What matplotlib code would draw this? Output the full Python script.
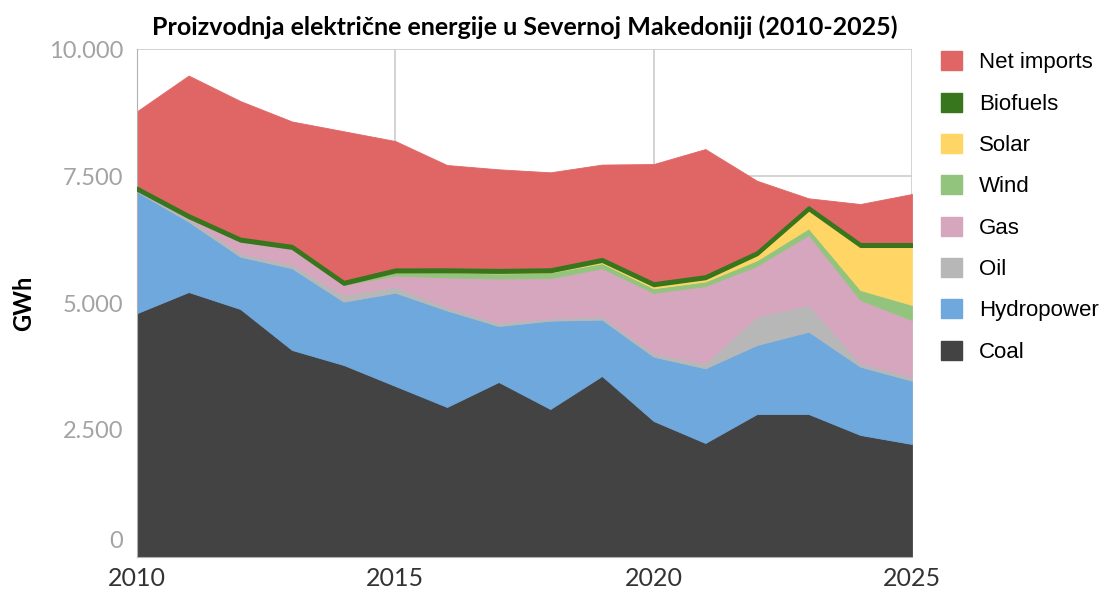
import matplotlib
matplotlib.use("Agg")
import matplotlib.pyplot as plt
from matplotlib.patches import Patch
from matplotlib.transforms import ScaledTranslation
import numpy as np

# Electricity generation in North Macedonia, GWh
years = list(range(2010, 2026))
coal = [4800, 5216, 4882, 4075, 3780, 3366, 2953, 3445, 2913, 3563, 2677, 2244, 2815, 2815, 2402, 2224]
hydro = [2391, 1384, 1029, 1610, 1246, 1837, 1900, 1102, 1739, 1110, 1266, 1470, 1358, 1620, 1344, 1246]
oil = [40, 60, 67, 75, 131, 118, 60, 65, 47, 60, 67, 99, 558, 526, 67, 79]
gas = [0, 30, 250, 320, 200, 220, 590, 870, 790, 950, 1190, 1520, 1000, 1378, 1246, 1116]
wind = [0, 0, 0, 0, 10, 60, 100, 100, 110, 100, 90, 90, 110, 131, 197, 296]
solar = [0, 0, 0, 5, 10, 20, 20, 30, 25, 45, 60, 65, 120, 375, 866, 1161]
biofuels = [40, 40, 40, 40, 40, 40, 40, 40, 40, 40, 40, 40, 40, 40, 40, 40]
net_imports = [1503, 2748, 2708, 2449, 2965, 2528, 2054, 1980, 1909, 1857, 2346, 2503, 1406, 176, 787, 984]

series = [
    ("Coal", coal, "#434343"),
    ("Hydropower", hydro, "#6fa8dc"),
    ("Oil", oil, "#b7b7b7"),
    ("Gas", gas, "#d5a6bd"),
    ("Wind", wind, "#93c47d"),
    ("Solar", solar, "#ffd666"),
    ("Biofuels", biofuels, "#38761d"),
    ("Net imports", net_imports, "#e06666"),
]

fig = plt.figure(figsize=(11.01, 5.95), dpi=100)
ax = fig.add_axes([0.1244, 0.0639, 0.7039, 0.8537])

x = np.array(years)
base = np.zeros(len(years))
for name, vals, color in series:
    top = base + np.array(vals, dtype=float)
    lw = 2.2 if name == "Biofuels" else 0.6
    ax.fill_between(x, base, top, facecolor=color, edgecolor=color,
                    linewidth=lw, zorder=2 if name != "Biofuels" else 3)
    base = top

ax.set_xlim(2010, 2025)
ax.set_ylim(0, 10000)
ax.set_xticks([2010, 2015, 2020, 2025])
ax.set_yticks([0, 2500, 5000, 7500, 10000])
ax.set_yticklabels(["0", "2.500", "5.000", "7.500", "10.000"])
ax.grid(True, color="#cccccc", linewidth=1.2, zorder=0)
ax.set_axisbelow(True)
for side in ["top", "right"]:
    ax.spines[side].set_visible(False)
ax.spines["left"].set_color("#b0b0b0")
ax.spines["bottom"].set_color("#b0b0b0")
ax.tick_params(axis="both", length=0)
ax.tick_params(axis="y", pad=10, labelsize=17, labelcolor="#a3a3a3")
ax.tick_params(axis="x", pad=7, labelsize=18, labelcolor="#333333")
for lab in ax.get_yticklabels():
    lab.set_fontfamily("Lato")
for lab in ax.get_xticklabels():
    lab.set_fontfamily("Lato")
# lift the "0" label like in the original
zero = ax.get_yticklabels()[0]
zero.set_transform(zero.get_transform() + ScaledTranslation(0, 0.17, fig.dpi_scale_trans))

ax.set_ylabel("GWh", fontsize=17, fontfamily="Lato", fontweight="bold", labelpad=10)

ax.set_title("Proizvodnja električne energije u Severnoj Makedoniji (2010-2025)",
             fontsize=18, fontweight="bold", fontfamily="Lato", pad=10)

handles = [Patch(facecolor=c, edgecolor=c, label=n) for n, v, c in reversed(series)]
leg = ax.legend(handles=handles, loc="upper left", bbox_to_anchor=(1.012, 1.035),
                frameon=False, handlelength=0.95, handleheight=0.95, labelspacing=0.86,
                handletextpad=0.75, prop={"family": "Liberation Sans", "size": 16})

fig.savefig("out.png", dpi=100)
